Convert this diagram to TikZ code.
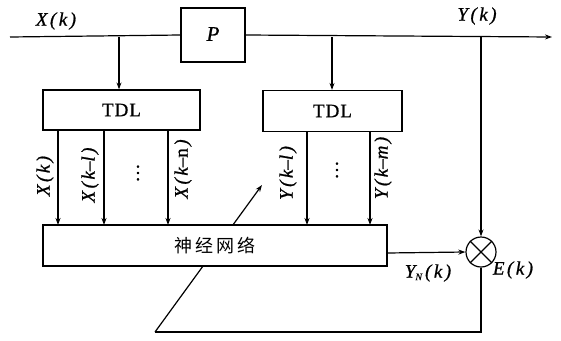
\documentclass[tikz,border=0pt]{standalone}
\usepackage{fontspec}
\setmainfont{Liberation Serif}[FakeBold=0.6,ItalicFeatures={FakeBold=0.6}]
\newfontfamily\heavyit{Liberation Serif Italic}[FakeBold=0.9]
\newfontfamily\heavyup{Liberation Serif}[FakeBold=0.9]
\newfontfamily\cjk{Noto Sans CJK SC}
\usetikzlibrary{arrows.meta}
\newcommand{\kk}{\kern2.5pt}
\begin{document}
\begin{tikzpicture}[x=1pt,y=-1pt,
  line width=1.2pt,
  tip/.style={-{Stealth[length=7pt,width=5pt]}},
  blk/.style={draw,fill=white,inner sep=0pt},
  lbl/.style={font=\heavyit\fontsize{19}{19}\selectfont,inner sep=0pt},
  vlbl/.style={lbl,rotate=90},
  dots/.style={font=\fontsize{19}{19}\selectfont,rotate=90,inner sep=0pt},
  tdltext/.style={font=\fontsize{19}{19}\selectfont}]
\useasboundingbox (0,0) rectangle (561,340);
% blocks
\node[blk,minimum width=64pt,minimum height=54pt] (P) at (213,35) {};
\node[lbl,font=\heavyit\fontsize{21}{21}\selectfont] (Ptxt) at (213,34) {P};
\node[blk,minimum width=157pt,minimum height=40pt,tdltext] (T1) at (121.5,110) {T\kern1pt D\kern1pt L};
\node[blk,minimum width=139pt,minimum height=41pt,tdltext] (T2) at (332.5,111) {T\kern1pt D\kern1pt L};
% coordinates
\coordinate (in) at (10,37);
\coordinate (out) at (552,37);
\coordinate (b1) at (119,37);
\coordinate (b2) at (332,37);
\coordinate (b3) at (481,37);
\coordinate (fb1) at (481,332);
\coordinate (fb2) at (155,332);
\coordinate (fbt) at (262,185);
% feedback (drawn before NN box so the box hides it)
\node[draw,circle,minimum size=30pt,inner sep=0pt] (M) at (481,252) {};
\draw (M.south) -- (fb1) -- (fb2);
\draw[tip] (fb2) -- (fbt);
\node[blk,minimum width=344pt,minimum height=41pt,font=\cjk\fontsize{18}{18}\selectfont] (NN) at (215,245.5) {神\hspace{3pt}经\hspace{3pt}网\hspace{3pt}络};
% cross in circle
\draw (M.north west) -- (M.south east);
\draw (M.north east) -- (M.south west);
% main line
\draw (in) -- (P.west);
\draw[tip] (P.east) -- (out);
\draw[tip] (b1) -- (b1 |- T1.north);
\draw[tip] (b2) -- (b2 |- T2.north);
\draw[tip] (b3) -- (M.north);
% TDL outputs
\foreach \x in {58,104,168}{\draw[tip] (\x,130) -- (\x,225);}
\foreach \x in {307,370}{\draw[tip] (\x,131.5) -- (\x,225);}
% NN to multiplier
\coordinate (nno) at (387,253);
\draw[tip] (nno) -- (M.west);
% labels
\node[lbl] (lx) at (56,21) {X\kk(\kk k\kk)};
\node[lbl] (ly) at (477,16) {Y\kk(\kk k\kk)};
\node[lbl] (lyn) at (428,273) {Y\textsubscript{\fontsize{10}{10}\selectfont N}\kk(\kk k\kk)};
\node[lbl] (le) at (513,270) {E\kk(\kk k\kk)};
\node[vlbl] (v1) at (45,176) {X\kk(\kk k\kk)};
\node[vlbl] (v2) at (90,175) {X\kk(\kk k–l\kk)};
\node[dots] (d1) at (138,173) {…};
\node[vlbl] (v3) at (183,169) {X\kk(\kk k–{\heavyup n}\kk)};
\node[vlbl] (v4) at (288,173) {Y\kk(\kk k–l\kk)};
\node[dots] (d2) at (337,170) {…};
\node[vlbl] (v5) at (383,168) {Y\kk(\kk k–m\kk)};
\end{tikzpicture}
\end{document}
